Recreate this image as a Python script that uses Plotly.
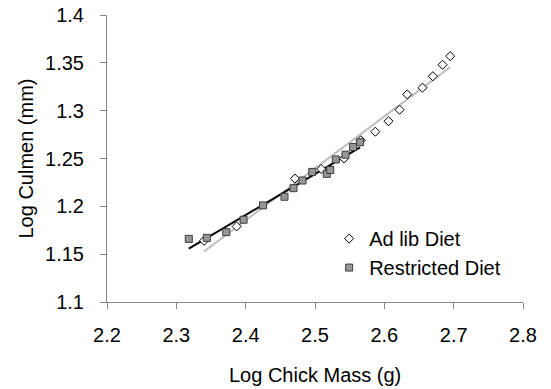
import numpy as np
import plotly.graph_objects as go

# Ad lib diet (open diamonds)
adlib_mass = [2.340, 2.387, 2.471, 2.509, 2.542, 2.566, 2.587, 2.606, 2.622, 2.633, 2.655, 2.670, 2.684, 2.695]
adlib_culmen = [1.164, 1.179, 1.229, 1.239, 1.250, 1.269, 1.278, 1.289, 1.301, 1.317, 1.324, 1.336, 1.348, 1.357]

# Restricted diet (grey squares)
restr_mass = [2.318, 2.344, 2.372, 2.397, 2.425, 2.456, 2.469, 2.482, 2.496, 2.517, 2.522, 2.530, 2.544, 2.555, 2.565]
restr_culmen = [1.166, 1.167, 1.173, 1.186, 1.201, 1.210, 1.219, 1.227, 1.236, 1.234, 1.238, 1.249, 1.254, 1.262, 1.267]

x_ticks = [2.2, 2.3, 2.4, 2.5, 2.6, 2.7, 2.8]
x_tick_text = ["2.2", "2.3", "2.4", "2.5", "2.6", "2.7", "2.8"]
y_ticks = [1.1, 1.15, 1.2, 1.25, 1.3, 1.35, 1.4]
y_tick_text = ["1.1", "1.15", "1.2", "1.25", "1.3", "1.35", "1.4"]

x_title = "Log Chick Mass (g)"
y_title = "Log Culmen (mm)"


def trend(xs, ys):
    xs = np.asarray(xs)
    ys = np.asarray(ys)
    m, b = np.polyfit(xs, ys, 1)
    tx = np.array([xs.min(), xs.max()])
    return tx, m * tx + b


FONT = "Liberation Sans, Arial, sans-serif"
fig = go.Figure()

ax_x, ax_y = trend(adlib_mass, adlib_culmen)
rx_x, rx_y = trend(restr_mass, restr_culmen)

fig.add_trace(go.Scatter(x=ax_x, y=ax_y, mode="lines",
                         line=dict(color="#BEBEBE", width=2), showlegend=False, hoverinfo="skip"))
fig.add_trace(go.Scatter(x=rx_x, y=rx_y, mode="lines",
                         line=dict(color="#000000", width=2), showlegend=False, hoverinfo="skip"))

fig.add_trace(go.Scatter(x=adlib_mass, y=adlib_culmen, mode="markers", name="Ad lib Diet",
                         marker=dict(symbol="diamond", size=7, color="white",
                                     line=dict(color="black", width=1))))
fig.add_trace(go.Scatter(x=restr_mass, y=restr_culmen, mode="markers", name="Restricted Diet",
                         marker=dict(symbol="square", size=7, color="#969696",
                                     line=dict(color="#3c3c3c", width=1))))

axis_common = dict(showgrid=False, zeroline=False, showline=True, linecolor="#868686", linewidth=1,
                   ticks="outside", ticklen=6, tickcolor="#868686", tickwidth=1, automargin=False,
                   ticklabeloverflow="allow",
                   tickfont=dict(family=FONT, size=20, color="black"))

fig.update_layout(
    width=551, height=389,
    margin=dict(l=107, r=28, t=15, b=87),
    paper_bgcolor="white", plot_bgcolor="white",
    font=dict(family=FONT, size=20, color="black"),
    xaxis=dict(range=[2.2, 2.8], tickvals=x_ticks, ticktext=x_tick_text, ticklabelstandoff=9,
               **axis_common),
    yaxis=dict(range=[1.1, 1.4], tickvals=y_ticks, ticktext=y_tick_text, ticklabelstandoff=12,
               **axis_common),
    legend=dict(x=0.534, y=0.289, xanchor="left", yanchor="top", bgcolor="rgba(0,0,0,0)",
                font=dict(family=FONT, size=20), itemwidth=30),
    annotations=[
        dict(text=x_title, xref="paper", yref="paper", x=0.5, y=-0.254,
             xanchor="center", yanchor="middle", showarrow=False,
             font=dict(family=FONT, size=20, color="black")),
        dict(text=y_title, xref="paper", yref="paper", x=-0.197, y=0.5, textangle=-90,
             xanchor="center", yanchor="middle", showarrow=False,
             font=dict(family=FONT, size=20, color="black")),
    ],
)

# remove the browser's default 8px page margin so the figure fills the window
fig.write_html("out.html", config={"displayModeBar": False},
               post_script="document.body.style.margin='0';")
